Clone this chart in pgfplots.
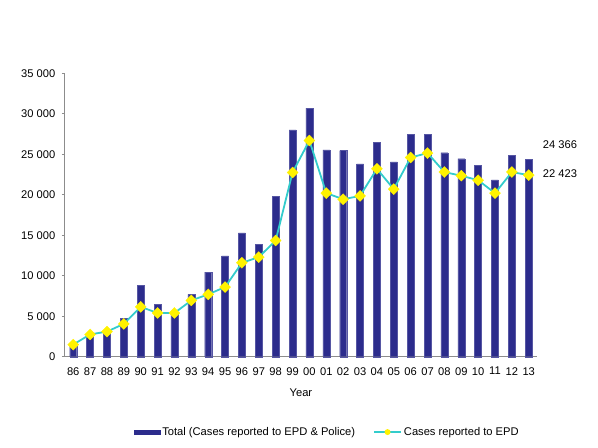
\documentclass[border=0pt]{standalone}
\usepackage{pgfplots}
\pgfplotsset{compat=1.18}
\usepackage{fontspec}
\setmainfont{Liberation Sans}
\definecolor{barblue}{RGB}{44,44,140}
\definecolor{linecyan}{RGB}{51,204,204}
\definecolor{axgray}{RGB}{140,140,140}
\begin{document}
\begin{tikzpicture}
\path[use as bounding box] (0bp,0bp) rectangle (598bp,448bp);
\begin{axis}[
  at={(64.8bp,91.3bp)}, anchor=south west,
  scale only axis, width=472.2bp, height=283.4bp,
  xmin=-0.5, xmax=27.49, ymin=0, ymax=35000,
  axis x line*=bottom, axis y line*=left,
  axis line style={draw=axgray, line width=0.8pt},
  xtick={0,...,27},
  xticklabels={86,87,88,89,90,91,92,93,94,95,96,97,98,99,00,01,02,03,04,05,06,07,08,09,10,11,12,13},
  x tick style={draw=none},
  scaled y ticks=false,
  ytick={0,5000,10000,15000,20000,25000,30000,35000},
  yticklabels={0,5 000,10 000,15 000,20 000,25 000,30 000,35 000},
  y tick style={draw=axgray, line width=0.6pt},
  tick align=outside, major tick length=3bp,
  tick label style={font=\fontsize{11.2}{13}\selectfont},
  xticklabel style={yshift=-4bp},
  yticklabel style={xshift=-3bp},
  xlabel={Year},
  xlabel style={at={(axis description cs:0.5,-0.128)}, anchor=center, font=\fontsize{11.2}{13}\selectfont},
  clip=false,
  legend columns=2,
  legend style={at={(0.556,-0.266)}, anchor=center, draw=none, font=\fontsize{11.2}{13}\selectfont,
    /tikz/every even column/.append style={column sep=16bp}},
]
\addplot[ybar, bar width=7bp, fill=barblue, draw=barblue!80!white, line width=0.3pt,
  area legend,
  legend image code/.code={\fill[barblue] (0bp,-2bp) rectangle (26bp,2bp);}]
coordinates {
(0,1300) (1,2600) (2,3000) (3,4700) (4,8850) (5,6450) (6,5500) (7,7700)
(8,10450) (9,12450) (10,15300) (11,13900) (12,19800) (13,28000) (14,30700)
(15,25550) (16,25450) (17,23800) (18,26450) (19,24050) (20,27500) (21,27450)
(22,25200) (23,24450) (24,23600) (25,21850) (26,24900) (27,24366)};
\addlegendentry{Total (Cases reported to EPD \& Police)}
\addplot[color=linecyan, line width=1.8pt, mark=square*,
  mark options={fill=yellow, draw=yellow, line width=0.3pt, rotate=45}, mark size=3.9bp,
  legend image code/.code={\draw[linecyan, line width=1.8pt] (0bp,0bp) -- (27bp,0bp);
    \fill[yellow] (13.5bp,0bp) circle (2bp);}]
coordinates {
(0,1500) (1,2750) (2,3100) (3,4050) (4,6150) (5,5400) (6,5400) (7,6950)
(8,7700) (9,8600) (10,11600) (11,12300) (12,14350) (13,22750) (14,26700)
(15,20200) (16,19450) (17,19850) (18,23200) (19,20700) (20,24600) (21,25150)
(22,22800) (23,22350) (24,21800) (25,20200) (26,22800) (27,22423)};
\addlegendentry{Cases reported to EPD}
\node[anchor=west, inner sep=0pt, font=\fontsize{11.2}{13}\selectfont] at (axis cs:27.83,26230) {24 366};
\node[anchor=west, inner sep=0pt, font=\fontsize{11.2}{13}\selectfont] at (axis cs:27.83,22560) {22 423};
\end{axis}
\end{tikzpicture}
\end{document}
